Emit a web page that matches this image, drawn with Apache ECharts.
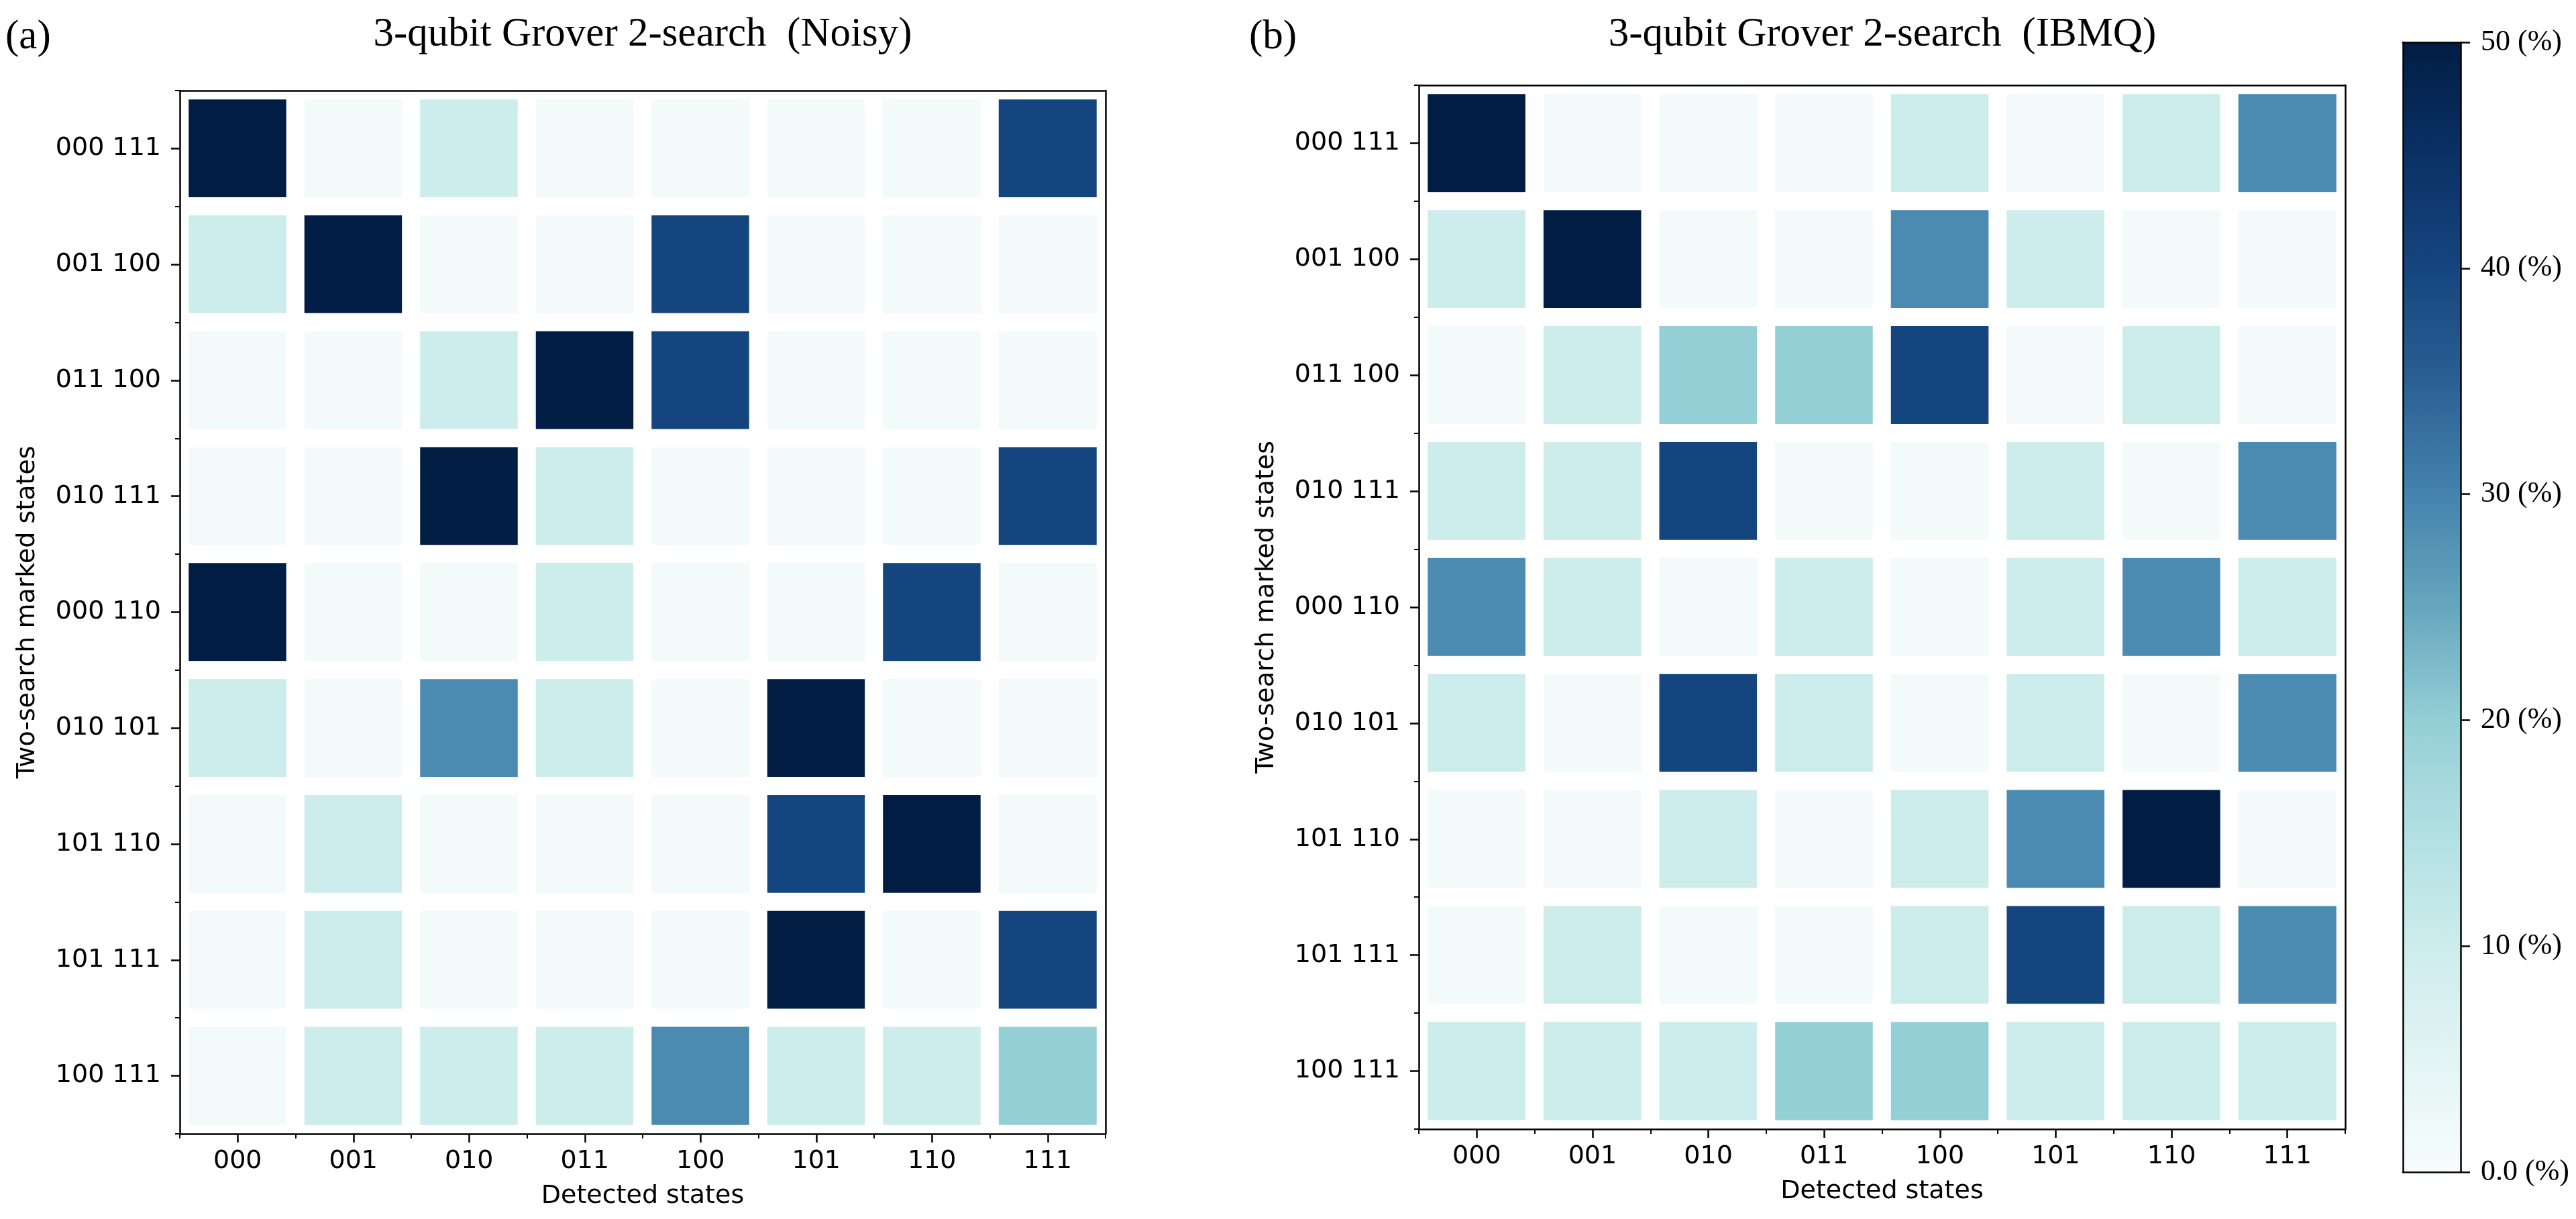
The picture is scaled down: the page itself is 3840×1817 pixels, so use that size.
<!DOCTYPE html>
<html>
<head>
<meta charset="utf-8">
<script src="https://cdn.jsdelivr.net/npm/echarts@6/dist/echarts.min.js"></script>
<style>
html,body{margin:0;padding:0;background:#fff;}
#c{width:3840px;height:1817px;}
</style>
</head>
<body>
<div id="c"></div>
<script>
// ---- data ----
const detectedStates = ['000','001','010','011','100','101','110','111'];
const markedStates = ['000 111','001 100','011 100','010 111','000 110','010 101','101 110','101 111','100 111'];
const titleNoisy = '3-qubit Grover 2-search  (Noisy)';
const titleIBMQ = '3-qubit Grover 2-search  (IBMQ)';
// rows in order of markedStates (top to bottom), columns = detectedStates, values in %
const noisyValues = [
  [50, 1, 10, 1, 1, 1, 1, 40],
  [10, 50, 1, 1, 40, 1, 1, 1],
  [1, 1, 10, 50, 40, 1, 1, 1],
  [1, 1, 50, 10, 1, 1, 1, 40],
  [50, 1, 1, 10, 1, 1, 40, 1],
  [10, 1, 29, 10, 1, 50, 1, 1],
  [1, 10, 1, 1, 1, 40, 50, 1],
  [1, 10, 1, 1, 1, 50, 1, 40],
  [1, 10, 10, 10, 29, 10, 10, 20]
];
const ibmqValues = [
  [50, 1, 1, 1, 10, 1, 10, 29],
  [10, 50, 1, 1, 29, 10, 1, 1],
  [1, 10, 20, 20, 40, 1, 10, 1],
  [10, 10, 40, 1, 1, 10, 1, 29],
  [29, 10, 1, 10, 1, 10, 29, 10],
  [10, 1, 40, 10, 1, 10, 1, 29],
  [1, 1, 10, 1, 10, 29, 50, 1],
  [1, 10, 1, 1, 10, 40, 10, 29],
  [10, 10, 10, 20, 20, 10, 10, 10]
];
const colorbarMin = 0;
const colorbarMax = 50;
const colorbarStep = 10;
// colormap sampled every 5 %
const cmap = ['#f7fcfc','#e3f4f4','#cdecec','#b2e0e2','#94cfd6','#66a6bd','#4483ae','#2b6094','#15457e','#0a3166','#021d44'];

// ---- build ----
function toTriples(m){
  const out=[];
  m.forEach((row,r)=>row.forEach((v,c)=>out.push([c,r,v])));
  return out;
}
const tickFont = 'DejaVu Sans';
const serif = 'Liberation Serif';
const lineStyle = {color:'#000', width:2.5};

const grids = [
  {left:268, top:135, width:1380, height:1555},
  {left:2115, top:127, width:1381, height:1556},
  {left:3582, top:63, width:86, height:1684}
];

const xAxes = [], yAxes = [];
function addHeatAxes(gi){
  xAxes.push({gridIndex:gi, type:'category', data:detectedStates, position:'bottom', z:10,
    name:'Detected states', nameLocation:'middle', nameGap:74,
    nameTextStyle:{fontFamily:tickFont, fontSize:38, color:'#000'},
    axisLine:{show:true, lineStyle}, axisTick:{show:true, alignWithLabel:true, length:13, lineStyle:{color:'#000', width:2.5}},
    axisLabel:{fontFamily:tickFont, fontSize:38, color:'#000', margin:22}, splitLine:{show:false}});
  xAxes.push({gridIndex:gi, type:'category', data:detectedStates, position:'bottom', z:10,
    axisLine:{show:false}, axisTick:{show:true, alignWithLabel:false, length:7, lineStyle:{color:'#000', width:2}},
    axisLabel:{show:false}, splitLine:{show:false}});
  xAxes.push({gridIndex:gi, type:'category', data:detectedStates, position:'top', z:10,
    axisLine:{show:true, lineStyle}, axisTick:{show:false}, axisLabel:{show:false}, splitLine:{show:false}});
  yAxes.push({gridIndex:gi, type:'category', data:markedStates, inverse:true, position:'left', z:10,
    name:'Two-search marked states', nameLocation:'middle', nameGap:208, nameRotate:90,
    nameTextStyle:{fontFamily:tickFont, fontSize:38, color:'#000'},
    axisLine:{show:true, lineStyle}, axisTick:{show:true, alignWithLabel:true, length:13, lineStyle:{color:'#000', width:2.5}},
    axisLabel:{fontFamily:tickFont, fontSize:38, color:'#000', margin:28}, splitLine:{show:false}});
  yAxes.push({gridIndex:gi, type:'category', data:markedStates, inverse:true, position:'left', z:10,
    axisLine:{show:false}, axisTick:{show:true, alignWithLabel:false, length:7, lineStyle:{color:'#000', width:2}},
    axisLabel:{show:false}, splitLine:{show:false}});
  yAxes.push({gridIndex:gi, type:'category', data:markedStates, inverse:true, position:'right', z:10,
    axisLine:{show:true, lineStyle}, axisTick:{show:false}, axisLabel:{show:false}, splitLine:{show:false}});
}
addHeatAxes(0);
addHeatAxes(1);
// colorbar axes
xAxes.push({gridIndex:2, type:'category', data:['cb'], position:'bottom', z:10,
  axisLine:{show:true, onZero:false, lineStyle}, axisTick:{show:false}, axisLabel:{show:false}});
xAxes.push({gridIndex:2, type:'category', data:['cb'], position:'top', z:10,
  axisLine:{show:true, onZero:false, lineStyle}, axisTick:{show:false}, axisLabel:{show:false}});
yAxes.push({gridIndex:2, type:'value', min:colorbarMin, max:colorbarMax, interval:colorbarStep, position:'right', z:10,
  axisLine:{show:true, lineStyle}, axisTick:{show:true, length:14, lineStyle:{color:'#000', width:2.5}},
  axisLabel:{fontFamily:serif, fontSize:44, color:'#000', margin:30,
    formatter:v=> (v===0 ? '0.0' : String(v)) + ' (%)'},
  splitLine:{show:false}});
yAxes.push({gridIndex:2, type:'value', min:colorbarMin, max:colorbarMax, interval:colorbarStep, position:'left', z:10,
  axisLine:{show:true, lineStyle}, axisTick:{show:false}, axisLabel:{show:false}, splitLine:{show:false}});

const gradStops = cmap.map((c,i)=>({offset:i/(cmap.length-1), color:c}));

const option = {
  backgroundColor:'#fff',
  animation:false,
  grid: grids,
  xAxis: xAxes,
  yAxis: yAxes,
  visualMap: {type:'continuous', show:false, min:colorbarMin, max:colorbarMax, seriesIndex:[0,1], inRange:{color:cmap}},
  series: [
    {type:'heatmap', xAxisIndex:0, yAxisIndex:0, data:toTriples(noisyValues),
      itemStyle:{borderColor:'#fff', borderWidth:27}, emphasis:{disabled:true}, label:{show:false}},
    {type:'heatmap', xAxisIndex:3, yAxisIndex:3, data:toTriples(ibmqValues),
      itemStyle:{borderColor:'#fff', borderWidth:27}, emphasis:{disabled:true}, label:{show:false}},
    {type:'bar', xAxisIndex:6, yAxisIndex:6, data:[colorbarMax], barWidth:'100%', silent:true,
      itemStyle:{color:new echarts.graphic.LinearGradient(0,1,0,0,gradStops)}}
  ],
  graphic: [
    {type:'text', x:958, y:52, style:{text:titleNoisy, font:'61px "Liberation Serif"', fill:'#000', align:'center', verticalAlign:'middle'}},
    {type:'text', x:2806, y:52, style:{text:titleIBMQ, font:'61px "Liberation Serif"', fill:'#000', align:'center', verticalAlign:'middle'}},
    {type:'text', x:8, y:56, style:{text:'(a)', font:'61px "Liberation Serif"', fill:'#000', align:'left', verticalAlign:'middle'}},
    {type:'text', x:1862, y:56, style:{text:'(b)', font:'61px "Liberation Serif"', fill:'#000', align:'left', verticalAlign:'middle'}}
  ]
};
const chart = echarts.init(document.getElementById('c'), null, {renderer:'canvas'});
chart.setOption(option);
</script>
</body>
</html>
